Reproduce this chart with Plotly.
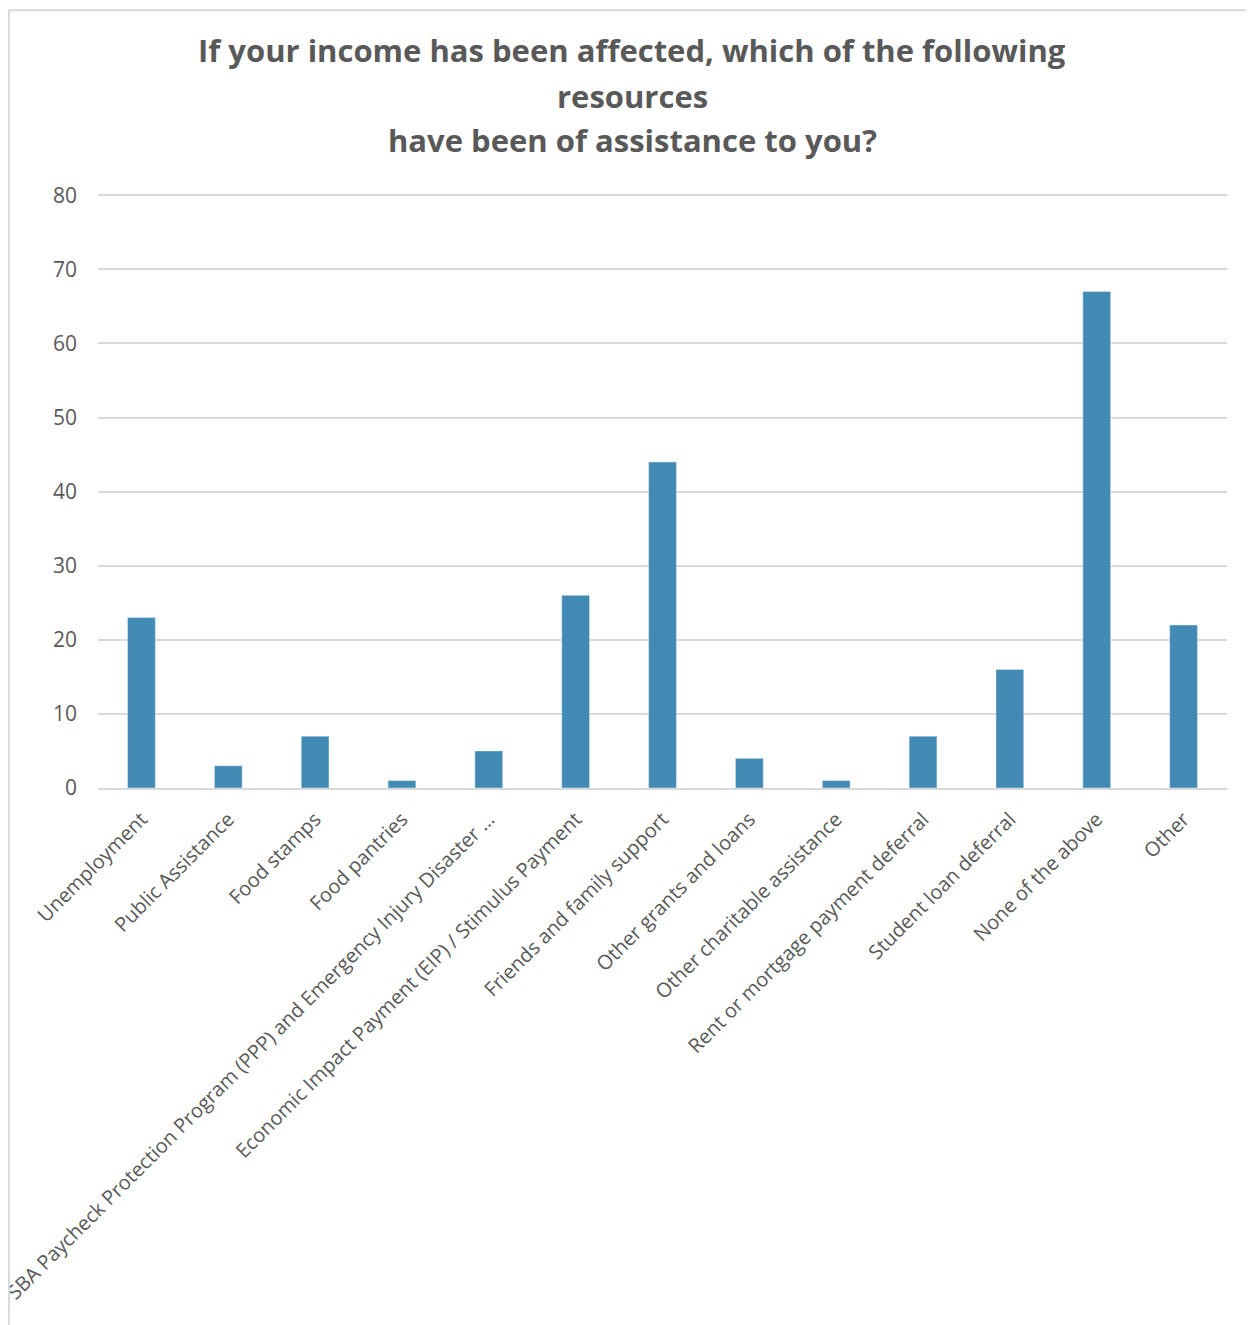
import plotly.graph_objects as go

categories = [
    "Unemployment",
    "Public Assistance",
    "Food stamps",
    "Food pantries",
    "SBA Paycheck Protection Program (PPP) and Emergency Injury Disaster …",
    "Economic Impact Payment (EIP) / Stimulus Payment",
    "Friends and family support",
    "Other grants and loans",
    "Other charitable assistance",
    "Rent or mortgage payment deferral",
    "Student loan deferral",
    "None of the above",
    "Other",
]
values = [23, 3, 7, 1, 5, 26, 44, 4, 1, 7, 16, 67, 22]
y_ticks = [0, 10, 20, 30, 40, 50, 60, 70, 80]
title_lines = [
    "If your income has been affected, which of the following",
    "resources",
    "have been of assistance to you?",
]

# page offset (browser body margin)
OFF = 8
W, H = 1254 - OFF, 1325 - OFF
Lp, Rp, Bp = 98, 1227, 788
ymax = 80.3
Tp = Bp - (Bp - 195) / 80 * ymax
pw, ph = Rp - Lp, Bp - Tp

def px(x):
    return (x - Lp) / pw

def py(y):
    return (Bp - y) / ph

fig = go.Figure(go.Bar(
    x=categories, y=values,
    marker=dict(color="#418AB3"),
))

title_y = [50, 96, 140]
annotations = [
    dict(text="<b>%s</b>" % t, x=px(632), y=py(yy), xref="paper", yref="paper",
         xanchor="center", yanchor="middle", showarrow=False,
         font=dict(size=31, color="#595959", family="Open Sans, sans-serif"))
    for t, yy in zip(title_lines, title_y)
]

fig.update_layout(
    width=W, height=H,
    margin=dict(l=Lp - OFF, r=OFF + W - Rp, t=Tp - OFF, b=OFF + H - Bp),
    paper_bgcolor="white", plot_bgcolor="white",
    bargap=0.68,
    font=dict(family="Open Sans, sans-serif", color="#595959"),
    annotations=annotations,
    xaxis=dict(
        tickangle=-45, automargin=False,
        tickfont=dict(size=20, color="#595959"),
        showline=True, linecolor="#d9d9d9", linewidth=1.5,
        ticks="", ticklabelstandoff=10,
    ),
    yaxis=dict(
        range=[0, ymax], tickvals=y_ticks, automargin=False,
        showgrid=True, gridcolor="#d9d9d9", gridwidth=1.5,
        zeroline=False, ticks="", ticklabelstandoff=20,
        tickfont=dict(size=21, color="#595959"),
    ),
    shapes=[
        dict(type="line", xref="paper", yref="paper",
             x0=px(9), x1=px(9), y0=py(10), y1=py(1340),
             line=dict(color="#d9d9d9", width=2)),
        dict(type="line", xref="paper", yref="paper",
             x0=px(9), x1=px(1270), y0=py(10), y1=py(10),
             line=dict(color="#d9d9d9", width=2)),
    ],
)

fig.write_html("out.html")
